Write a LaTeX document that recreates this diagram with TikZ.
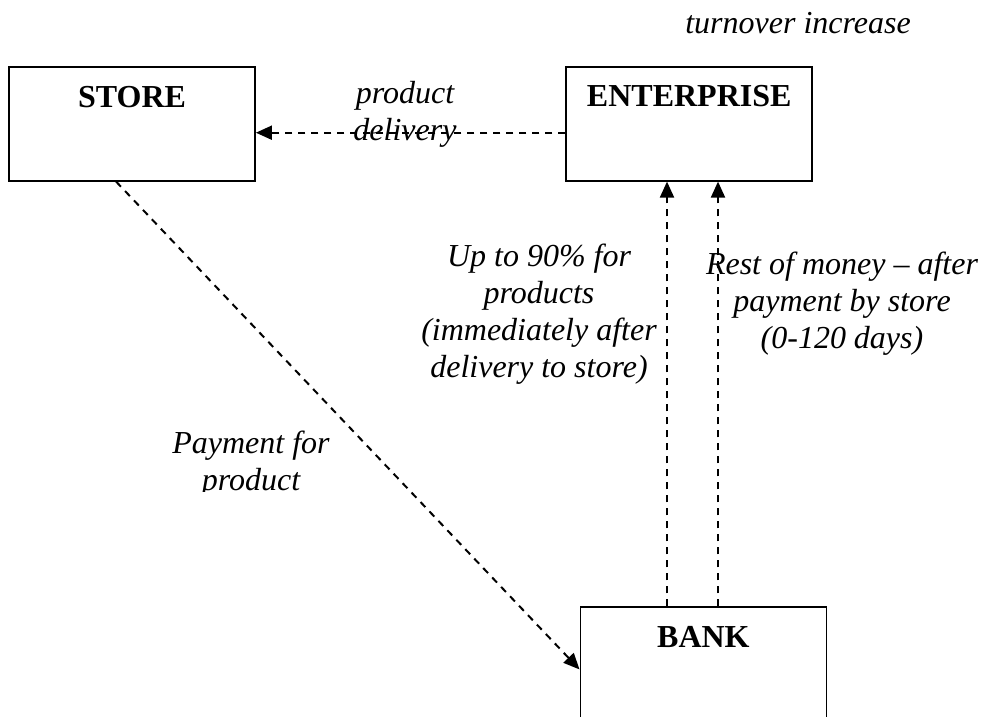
\documentclass[tikz,border=0pt]{standalone}
\usepackage{fontspec}
\setmainfont{Liberation Serif}
\usetikzlibrary{arrows.meta,calc}
\begin{document}
\begin{tikzpicture}[x=1pt,y=-1pt,
  box/.style={draw,line width=1.8pt,rectangle,minimum width=246pt,minimum height=114pt,inner sep=0pt},
  title/.style={font=\fontsize{32}{37}\selectfont\bfseries,inner sep=0pt,anchor=base},
  lbl/.style={font=\fontsize{32}{37}\selectfont\itshape,align=flush center,inner sep=0pt,anchor=base},
  arr/.style={line width=2pt,dash pattern=on 7pt off 6pt,-{Triangle[length=16pt,width=14pt]}}]
\clip (0,0) rectangle (982,717);
% boxes
\node[box] (store) at (132,123.7) {};
\node[box] (ent) at (689.2,123.7) {};
\node[box] (bank) at (703.4,664.3) {};
\node[title] (storet) at ($(store.north)+(0,41.3)$) {STORE};
\node[title] (entt) at ($(ent.north)+(0,40.5)$) {ENTERPRISE};
\node[title] (bankt) at ($(bank.north)+(0,40.7)$) {BANK};
% connectors
\draw[arr] ($(ent.west)+(0,9)$) -- ($(store.east)+(0,9)$);
\draw[arr] ($(store.south west)+(108,0)$) -- ($(bank.north west)+(0,63)$);
\coordinate (c1) at (667,0);
\coordinate (c2) at (718,0);
\draw[arr] (bank.north -| c1) -- (ent.south -| c1);
\draw[arr] (bank.north -| c2) -- (ent.south -| c2);
% labels
\node[lbl] (turn) at (798,34) {turnover increase};
\node[lbl,text width=160pt] (deliv) at (405,103) {product\\delivery};
\node[lbl,text width=270pt] (up) at (539,266) {Up to 90\% for\\products\\(immediately after\\delivery to store)};
\node[lbl,text width=300pt] (rest) at (842,274) {Rest of money – after\\payment by store\\(0-120 days)};
\begin{scope}
\clip (0,0) rectangle (982,491);
\node[lbl,text width=200pt] (pay) at (251,453) {Payment for\\product};
\end{scope}
\end{tikzpicture}
\end{document}
